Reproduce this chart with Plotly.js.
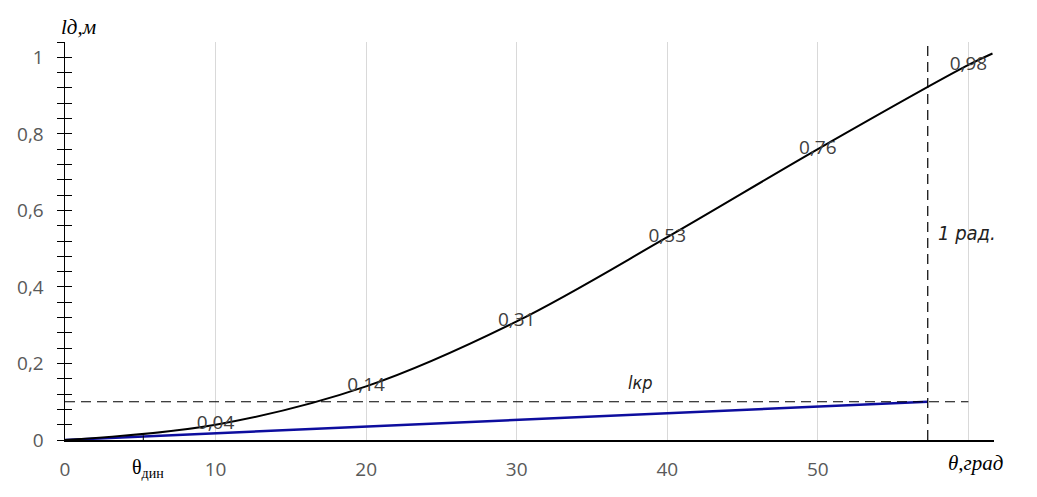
<!DOCTYPE html>
<html><head><meta charset="utf-8">
<script src="https://cdn.plot.ly/plotly-3.0.1.min.js"></script>
<style>html,body{margin:0;padding:0;background:#fff}#chart{width:1037px;height:497px}</style>
</head><body><div id="chart"></div>
<script>
// Data
const thetaDeg = [0, 10, 20, 30, 40, 50, 60, 61.6];
const ldValues = [0, 0.04, 0.14, 0.31, 0.53, 0.76, 0.98, 1.01];
const labelTheta = [10, 20, 30, 40, 50, 60];
const labelValues = [0.04, 0.14, 0.31, 0.53, 0.76, 0.98];
const labelTexts = ["0,04", "0,14", "0,31", "0,53", "0,76", "0,98"];
const lkrTheta = [0, 57.3];
const lkrValues = [0, 0.1];
const oneRad = 57.3;
const lkr = 0.1;
const thetaDyn = 5.2;
const xTickVals = [0, 10, 20, 30, 40, 50];
const xTickText = ["0", "10", "20", "30", "40", "50"];
const xExtraGrid = [60];
const yTickVals = [0, 0.2, 0.4, 0.6, 0.8, 1];
const yTickText = ["0", "0,2", "0,4", "0,6", "0,8", "1"];

const tickFont = {family: "Open Sans, sans-serif", size: 19, color: "#595959"};

const traces = [
  {x: lkrTheta, y: lkrValues, mode: "lines", line: {color: "#0d0d9e", width: 2.5}, hoverinfo: "skip"},
  {x: thetaDeg, y: ldValues, mode: "lines", line: {color: "#000", width: 2, shape: "spline", smoothing: 1}, hoverinfo: "skip"},
  {x: labelTheta, y: labelValues, mode: "text", text: labelTexts, textposition: "middle center",
   textfont: {family: "Open Sans, sans-serif", size: 19, color: "#404040"}, cliponaxis: false, hoverinfo: "skip"},
  {x: lkrTheta, y: lkrValues, yaxis: "y2", mode: "lines", line: {width: 0, color: "rgba(0,0,0,0)"}, hoverinfo: "skip"}
];

const layout = {
  width: 1037, height: 497,
  margin: {l: 65, r: 43, t: 42, b: 57},
  paper_bgcolor: "#fff", plot_bgcolor: "#fff",
  showlegend: false,
  xaxis: {
    range: [0, 61.7], tickvals: xTickVals, ticktext: xTickText,
    showgrid: true, gridcolor: "#d9d9d9", gridwidth: 1, zeroline: false,
    showline: true, linecolor: "#000", linewidth: 1.5, ticks: "",
    minor: {tickvals: xExtraGrid, showgrid: true, gridcolor: "#d9d9d9", gridwidth: 1, ticks: ""},
    tickfont: tickFont, ticklabelstandoff: 12
  },
  yaxis: {
    range: [0, 1.04], tickvals: yTickVals, ticktext: yTickText,
    showgrid: false, zeroline: false, showline: true, linecolor: "#000", linewidth: 1.5,
    ticks: "outside", ticklen: 7, tickwidth: 1, tickcolor: "#000",
    minor: {dtick: 0.04, tick0: 0, ticks: "outside", ticklen: 7, tickwidth: 1, tickcolor: "#000", showgrid: false},
    tickfont: tickFont, ticklabelstandoff: 9
  },
  yaxis2: {
    overlaying: "y", side: "left", anchor: "x", range: [0, 1.04],
    tickvals: yTickVals, showticklabels: false, showgrid: false, zeroline: false, showline: false,
    ticks: "inside", ticklen: 7, tickwidth: 1, tickcolor: "#000",
    minor: {dtick: 0.04, tick0: 0, ticks: "inside", ticklen: 7, tickwidth: 1, tickcolor: "#000", showgrid: false}
  },
  shapes: [
    {type: "line", xref: "x", yref: "y", x0: 0, x1: 60, y0: lkr, y1: lkr, line: {color: "#000", width: 1.2, dash: "10px,6px"}},
    {type: "line", xref: "x", yref: "y", x0: oneRad, x1: oneRad, y0: 0, y1: 1.045, line: {color: "#000", width: 1.2, dash: "10px,6px"}},
    {type: "line", xref: "x", yref: "y", x0: thetaDyn, x1: thetaDyn, y0: 0, y1: 0.012, line: {color: "#000", width: 1}}
  ],
  annotations: [
    {xref: "paper", yref: "paper", x: 0.014, y: 1.037, xanchor: "center", yanchor: "middle", text: "<i>lд,м</i>", showarrow: false,
     font: {family: "Liberation Serif, serif", size: 21, color: "#000"}},
    {xref: "paper", yref: "paper", x: 0.98, y: -0.058, xanchor: "center", yanchor: "middle", text: "<i>θ,град</i>", showarrow: false,
     font: {family: "Liberation Serif, serif", size: 21, color: "#000"}},
    {xref: "paper", yref: "paper", x: 0.089, y: -0.072, xanchor: "center", yanchor: "middle", text: "θ<sub>дин</sub>", showarrow: false,
     font: {family: "Liberation Serif, serif", size: 20, color: "#000"}},
    {xref: "x", yref: "y", x: 59.9, y: 0.54, xanchor: "center", yanchor: "middle", text: "<i>1 рад.</i>", showarrow: false,
     font: {family: "DejaVu Sans Condensed, sans-serif", size: 20, color: "#222", weight: 200}},
    {xref: "x", yref: "y", x: 38.2, y: 0.15, xanchor: "center", yanchor: "middle", text: "<i>lкр</i>", showarrow: false,
     font: {family: "DejaVu Sans Condensed, sans-serif", size: 18, color: "#222", weight: 200}}
  ]
};

Plotly.newPlot("chart", traces, layout, {displayModeBar: false, staticPlot: true});
</script>
</body></html>
